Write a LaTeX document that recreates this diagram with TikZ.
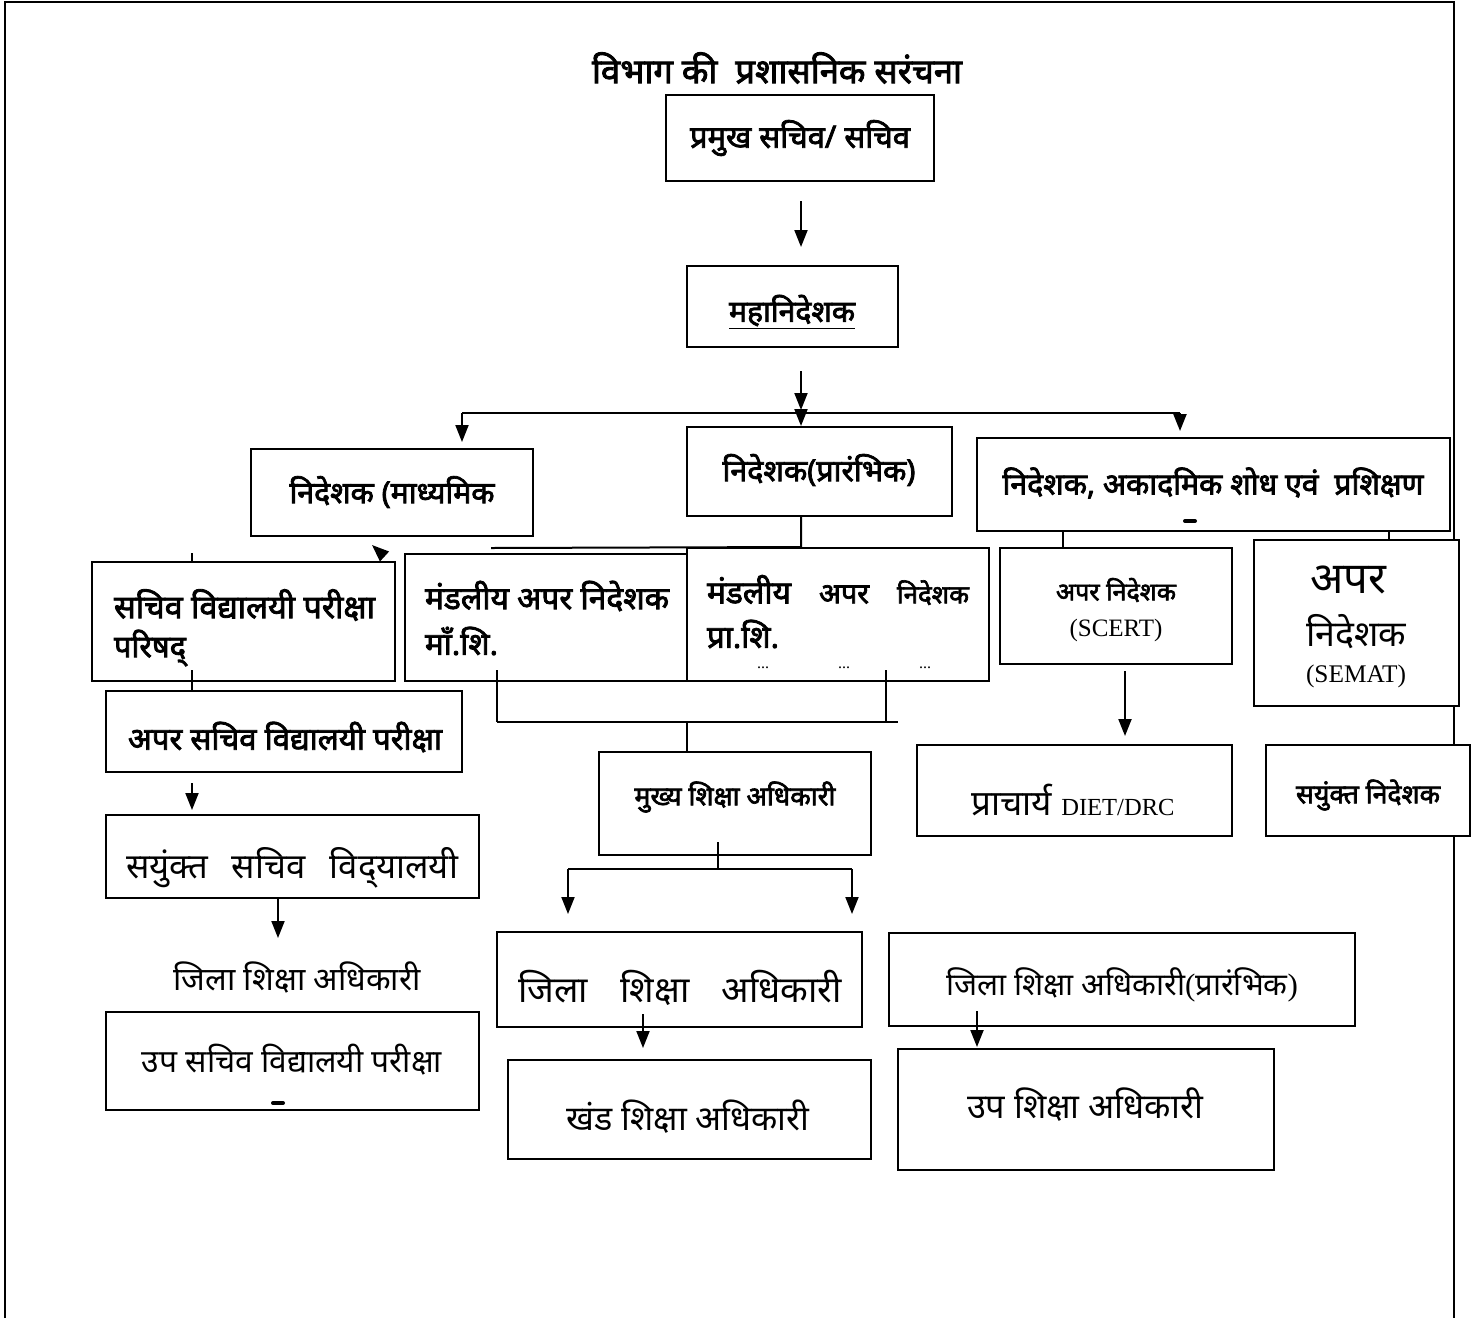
\documentclass[tikz,border=0pt]{standalone}
\usepackage{fontspec}
\setmainfont{Noto Sans}[Script=Devanagari,BoldFont={Noto Sans},BoldFeatures={FakeBold=2.5}]
\newfontfamily\lat{Liberation Serif}
\usetikzlibrary{arrows.meta,fit}
\newcommand\fw[2]{\resizebox{#1pt}{!}{#2}}
\begin{document}
\begin{tikzpicture}[x=0.5pt,y=-0.5pt,line width=1pt,
  boxst/.style={draw,fill=white,inner sep=0pt,line width=1pt},
  txt/.style={inner sep=0pt,font=\fontsize{20}{24}\selectfont},
  btxt/.style={inner sep=0pt,font=\fontsize{20}{24}\selectfont\bfseries},
  arr/.style={-{Triangle[width=6.5pt,length=8.5pt]}},
  blot/.style={line width=2pt,line cap=round}]
\useasboundingbox (0,0) rectangle (1472,1318);
% frame
\coordinate (fbl) at (5,1318);
\coordinate (ftl) at (5,2);
\coordinate (ftr) at (1454,2);
\coordinate (fbr) at (1454,1318);
\draw (fbl) -- (ftl) -- (ftr) -- (fbr);

% boxes
\node[boxst,fit={(666,95)(934,181)}] (A) {};
\node[boxst,fit={(687,266)(898,347)}] (B) {};
\node[boxst,fit={(251,449)(533,536)}] (C) {};
\node[boxst,fit={(687,427)(952,516)}] (D) {};
\node[boxst,fit={(977,438)(1450,531)}] (E) {};
\node[boxst,fit={(405,554)(687,681)}] (F1) {};
\node[boxst,fit={(687,548)(989,681)}] (F2) {};
\node[boxst,fit={(92,562)(395,681)}] (G) {};
\node[boxst,fit={(106,691)(462,772)}] (H) {};
\node[boxst,fit={(106,815)(479,898)}] (I) {};
\node[boxst,fit={(106,1012)(479,1110)}] (J) {};
\node[boxst,fit={(599,752)(871,855)}] (K) {};
\node[boxst,fit={(497,932)(862,1027)}] (L) {};
\node[boxst,fit={(508,1060)(871,1159)}] (M) {};
\node[boxst,fit={(889,933)(1355,1026)}] (N) {};
\node[boxst,fit={(898,1049)(1274,1170)}] (O) {};
\node[boxst,fit={(1000,548)(1232,664)}] (P) {};
\node[boxst,fit={(1254,540)(1459,706)}] (Q) {};
\node[boxst,fit={(917,745)(1232,836)}] (R) {};
\node[boxst,fit={(1266,745)(1470,836)}] (S) {};

% texts
\node[btxt] (title) at (777,68) {\fw{185}{विभाग की~ प्रशासनिक सरंचना}};
\node[btxt] (tA) at (800,138) {\fw{110}{प्रमुख सचिव/ सचिव}};
\node[btxt] (tB) at (792,312) {\fw{63}{\underline{महानिदेशक}}};
\node[btxt] (tC) at (392,492) {\fw{102.5}{निदेशक (माध्यमिक}};
\node[btxt] (tD) at (819,470) {\fw{96.5}{निदेशक(प्रारंभिक)}};
\node[btxt] (tE) at (1213,483) {\fw{210.5}{निदेशक, अकादमिक शोध एवं~ प्रशिक्षण}};
\node[btxt,anchor=west] (tF1a) at (424,596) {\fw{122}{मंडलीय अपर निदेशक}};
\node[btxt,anchor=west] (tF1b) at (424,641) {\fw{36.5}{माँ.शि.}};
\node[btxt,anchor=west] (tF2a) at (706,590) {\hbox to 131pt{\fw{42}{मंडलीय}\hfill\fw{25}{अपर}\hfill\fw{36}{निदेशक}}};
\node[btxt,anchor=west] (tF2b) at (706,634) {\fw{36}{प्रा.शि.}};
\node[txt,font=\lat\fontsize{8}{9}\selectfont] (tF2c) at (844,668) {\hbox to 87pt{...\hfill...\hfill...}};
\node[btxt,anchor=west] (tGa) at (113,605) {\fw{130.5}{सचिव विद्यालयी परीक्षा}};
\node[btxt,anchor=west] (tGb) at (113,648) {\fw{36}{परिषद्}};
\node[btxt] (tH) at (285,737) {\fw{157}{अपर सचिव विद्यालयी परीक्षा}};
\node[txt] (tI) at (292,868) {\fw{166}{सयुंक्त\hspace{0.7em}सचिव\hspace{0.7em}विद्‌यालयी}};
\node[txt] (tjila) at (297,977) {\fw{123.5}{जिला शिक्षा अधिकारी}};
\node[txt] (tJ) at (292,1060) {\fw{150}{उप सचिव विद्यालयी परीक्षा}};
\node[btxt] (tK) at (735,797) {\fw{100.5}{मुख्य शिक्षा अधिकारी}};
\node[txt] (tL) at (680,988) {\fw{162}{जिला\hspace{0.9em}शिक्षा\hspace{0.9em}अधिकारी}};
\node[txt] (tM) at (688,1117) {\fw{121.5}{खंड शिक्षा अधिकारी}};
\node[txt] (tN) at (1122,985) {\fw{176}{जिला शिक्षा अधिकारी{\lat(}प्रारंभिक{\lat)}}};
\node[txt] (tO) at (1085,1105) {\fw{118}{उप शिक्षा अधिकारी}};
\node[btxt] (tPa) at (1116,590) {\fw{60}{अपर निदेशक}};
\node[txt,font=\lat\fontsize{20}{24}\selectfont] (tPb) at (1116,630) {\fw{46.5}{(SCERT)}};
\node[txt] (tQa) at (1348,580) {\fw{38}{अपर}};
\node[txt] (tQb) at (1356,632) {\fw{50}{निदेशक}};
\node[txt,font=\lat\fontsize{20}{24}\selectfont] (tQc) at (1356,676) {\fw{50}{(SEMAT)}};
\node[txt] (tR) at (1073,800) {\fw{101.5}{प्राचार्य {\lat\fontsize{14}{16}\selectfont DIET/DRC}}};
\node[btxt] (tS) at (1368,795) {\fw{72}{सयुंक्त निदेशक}};

% small blots
\coordinate (eb1) at (1185,521); \coordinate (eb2) at (1195,521);
\draw[blot] (eb1) -- (eb2);
\coordinate (jb1) at (273,1103); \coordinate (jb2) at (283,1103);
\draw[blot] (jb1) -- (jb2);

% connectors
\coordinate (busL) at (462,413);
\coordinate (busM) at (801,413);
\coordinate (busR) at (1180,413);
\draw[arr,shorten <=9.5pt,shorten >=9pt] (A.south -| busM) -- (busM |- B.north);
\draw[arr,shorten <=11.5pt,shorten >=1.5pt] (B.south -| busM) -- (busM);
\draw (busL) -- (busR);
\draw[arr,shorten >=3pt] (busL) -- (busL |- C.north);
\draw[arr] (busM) -- (busM |- D.north);
\draw[arr,shorten >=3pt] (busR) -- (busR |- E.north);
\coordinate (hL) at (491,548);
\draw (busM |- D.south) -- (busM |- F2.north) -- (hL);
\coordinate (eP) at (1063,0);
\coordinate (eQ) at (1389,0);
\draw (E.south -| eP) -- (P.north -| eP);
\draw (E.south -| eQ) -- (Q.north -| eQ);
% left column
\coordinate (gt) at (192,553);
\draw (gt) -- (gt |- G.north);
\coordinate (gh) at (192,670);
\draw (gh) -- (gh |- H.north);
\draw[arr,shorten <=5pt,shorten >=2pt] (H.south -| gh) -- (gh |- I.north);
\coordinate (ij) at (278,0);
\coordinate (ijtip) at (278,938);
\draw[arr] (I.south -| ij) -- (ijtip);
\coordinate (ahs) at (384,556);
\coordinate (ahe) at (372,545);
\draw[arr] (ahs) -- (ahe);
% middle
\coordinate (k1) at (497,670);
\coordinate (k2) at (886,670);
\coordinate (kbl) at (497,722);
\coordinate (kbr) at (898,722);
\coordinate (kx) at (687,0);
\draw (k1) -- (k1 |- kbl);
\draw (k2) -- (k2 |- kbl);
\draw (kbl) -- (kbr);
\draw (kbl -| kx) -- (kx |- K.north);
\coordinate (ks) at (718,842);
\coordinate (kl) at (568,869);
\coordinate (kr) at (852,869);
\draw (ks) -- (ks |- kl);
\draw (kl) -- (kr);
\draw[arr,shorten >=8.5pt] (kl) -- (kl |- L.north);
\draw[arr,shorten >=9pt] (kr) -- (kr |- N.north);
\coordinate (lm) at (643,0);
\draw[arr,shorten <=-7pt,shorten >=5.5pt] (L.south -| lm) -- (lm |- M.north);
\coordinate (no) at (977,0);
\draw[arr,shorten <=-8pt,shorten >=0.5pt] (N.south -| no) -- (no |- O.north);
\coordinate (pr) at (1125,0);
\draw[arr,shorten <=3pt,shorten >=4pt] (P.south -| pr) -- (pr |- R.north);
\end{tikzpicture}
\end{document}
